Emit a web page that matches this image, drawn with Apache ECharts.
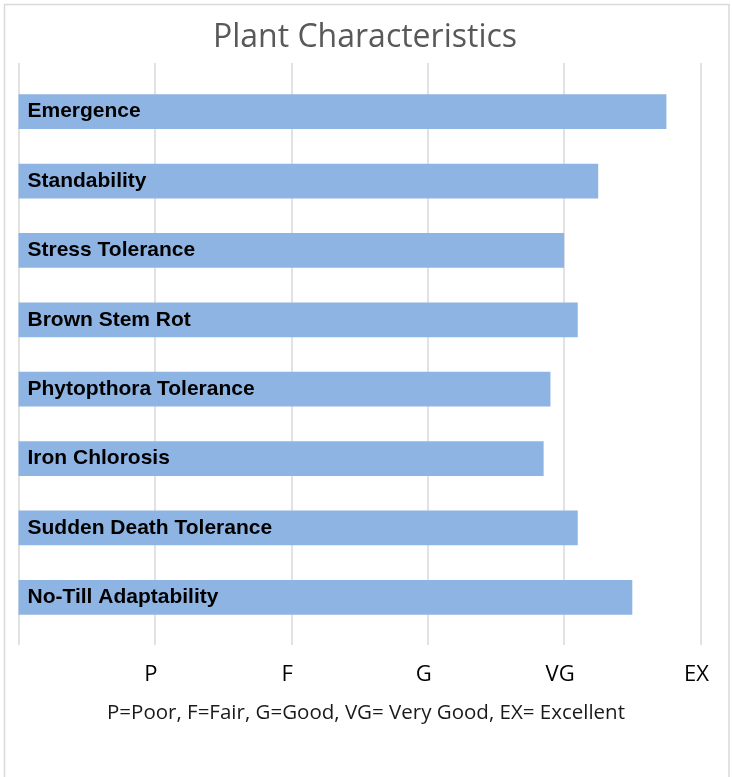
<!DOCTYPE html>
<html>
<head>
<meta charset="utf-8">
<script src="https://cdn.jsdelivr.net/npm/echarts@6/dist/echarts.min.js"></script>
<style>
html,body{margin:0;padding:0;background:#fff;}
#chart{width:732px;height:777px;}
</style>
</head>
<body>
<div id="chart"></div>
<script>
const categories = ['Emergence','Standability','Stress Tolerance','Brown Stem Rot','Phytopthora Tolerance','Iron Chlorosis','Sudden Death Tolerance','No-Till Adaptability'];
const ratings = [4.75, 4.25, 4.0, 4.1, 3.9, 3.85, 4.1, 4.5];
const tickLabels = ['', 'P', 'F', 'G', 'VG', 'EX'];
const titleText = 'Plant Characteristics';
const noteText = 'P=Poor, F=Fair, G=Good, VG= Very Good, EX= Excellent';

const chart = echarts.init(document.getElementById('chart'), null, {renderer:'canvas'});
chart.setOption({
  backgroundColor: '#fff',
  animation: false,
  title: [
    {text: titleText, left: 208, top: 17,
     textStyle: {fontFamily: 'Open Sans', fontWeight: 'normal', fontSize: 32, color: '#595959'}},
    {text: noteText, left: 'center', top: 698,
     textStyle: {fontFamily: 'Open Sans', fontWeight: 'normal', fontSize: 20.5, color: '#1a1a1a'}}
  ],
  graphic: [
    {type: 'rect', silent: true, z: -10,
     shape: {x: 4.5, y: 4.5, width: 724.5, height: 800},
     style: {fill: 'none', stroke: '#d9d9d9', lineWidth: 1.5}}
  ],
  grid: [
    {left: 18.5, right: 31.5, top: 77, height: 555},
    {left: 18.5, right: 31.5, top: 63, height: 582}
  ],
  xAxis: [
    {gridIndex: 0, type: 'value', min: 0, max: 5, interval: 1, show: false},
    {gridIndex: 1, type: 'value', min: 0, max: 5, interval: 1,
     axisLine: {show: false}, axisTick: {show: false},
     splitLine: {show: true, lineStyle: {color: '#d9d9d9', width: 1.5}},
     axisLabel: {margin: 19, fontFamily: 'Open Sans', fontSize: 22, color: '#000',
       padding: [0, 8, 0, 0],
       formatter: v => tickLabels[Math.round(v)] || ''}}
  ],
  yAxis: [
    {gridIndex: 0, type: 'category', data: categories, inverse: true, show: false},
    {gridIndex: 1, type: 'category', data: [''], show: false}
  ],
  series: [{
    type: 'bar', xAxisIndex: 0, yAxisIndex: 0,
    data: ratings,
    barCategoryGap: '50%',
    itemStyle: {color: '#8EB4E3'},
    label: {
      show: true, position: 'insideLeft', distance: 9,
      formatter: p => categories[p.dataIndex],
      fontFamily: 'Liberation Sans', fontWeight: 'bold', fontSize: 21, color: '#000'
    }
  }]
});
</script>
</body>
</html>
